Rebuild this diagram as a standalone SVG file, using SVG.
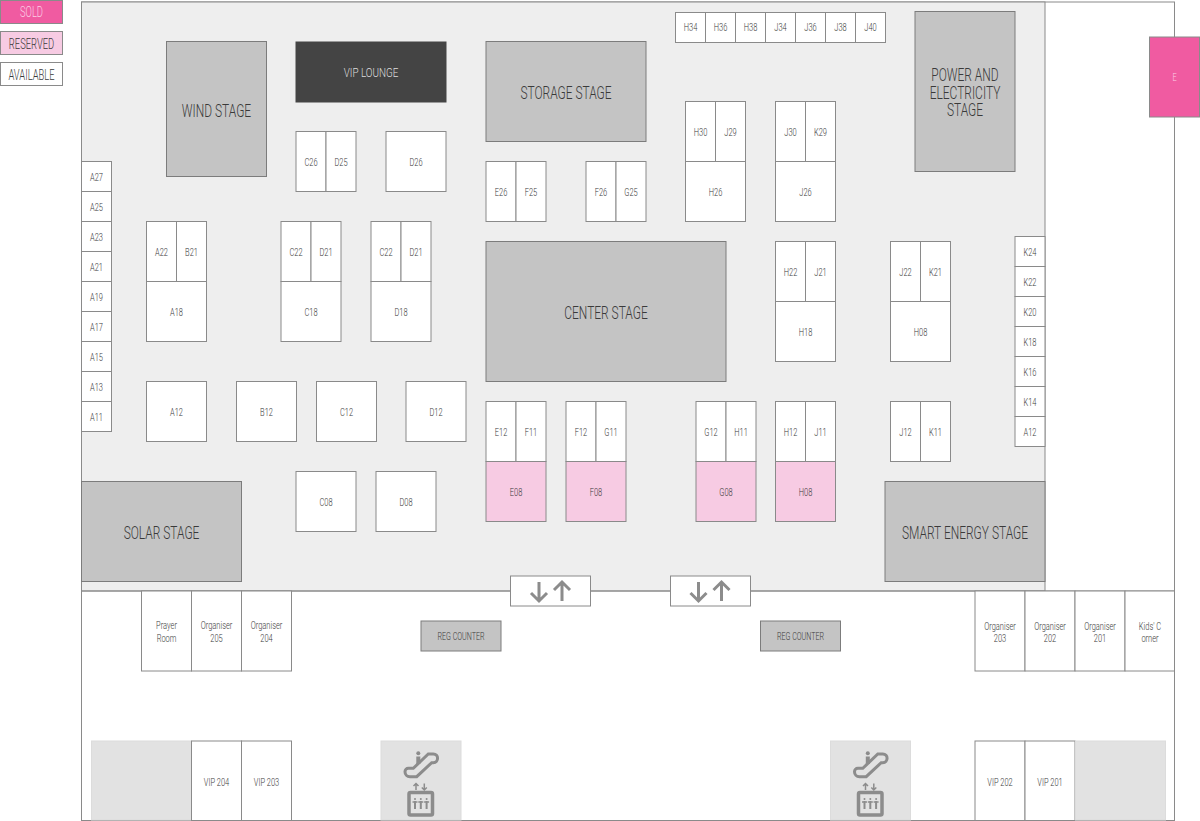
<svg xmlns="http://www.w3.org/2000/svg" width="1200" height="821" viewBox="0 0 1200 821">
<style>
rect{stroke:#8a8a8a;stroke-width:1}
.a{fill:#fff}.r{fill:#f7cbe3}.s{fill:#f05ba1}.g{fill:#c4c4c4;stroke:#7c7c7c}.d{fill:#444;stroke:#444}.n{fill:#e2e2e2;stroke:#dcdcdc}
text{font-family:Roboto,"Liberation Sans",sans-serif;font-weight:300;text-anchor:middle;fill:#3a3a3a;font-size:11.5px}
.l{font-size:18px}.p{fill:#fbd0e6}
.ic{fill:none;stroke:#8c8c8c;stroke-width:3}
.if{fill:#8c8c8c;stroke:none}
</style>
<defs>
<g id="arrows"><path class="ic" d="M28 6V25M20 17L28 25L36 17M51 25V6M43 14L51 6L59 14"/></g>
<g id="lift">
<path class="ic" d="M24 30.700C24 33.500 26 35.700 29 35.700H35.700L50.700 21.700H52.300C58 21.700 58 13 52.300 13H47.300L32.300 27.300H27.300C25.500 27.300 24 28.700 24 30.700Z"/>
<circle class="if" cx="37.300" cy="12.300" r="2"/><rect class="if" x="35.300" y="15.500" width="4" height="7.500"/>
<path class="ic" style="stroke-width:1.500" d="M35 49V42.500M32.500 45L35 42.500L37.500 45M43.300 42.500V49M40.800 46.500L43.300 49L45.800 46.500"/>
<rect x="28" y="51.500" width="23.500" height="22.500" rx="1.500" style="fill:none;stroke:#8c8c8c;stroke-width:3.500"/>
<path class="if" d="M33 60h2v8h-2zM38.800 60h2v8h-2zM44.600 60h2v8h-2z"/>
<path class="ic" style="stroke-width:1.500" d="M31.500 61H36.500M37.300 61H42.300M43.100 61H48.100"/>
<circle class="if" cx="34" cy="58" r="1"/><circle class="if" cx="39.800" cy="58" r="1"/><circle class="if" cx="45.600" cy="58" r="1"/>
</g>
</defs>

<g id="floor">
<rect x="81.500" y="2" width="1093" height="818.500" fill="#fff"/>
<rect x="81.500" y="2" width="963.500" height="589" fill="#eee"/>
<path d="M81 591H1175" stroke="#8a8a8a" fill="none"/>
</g>

<g id="legend">
<g id="legend-sold"><rect class="s" x="0.500" y="0.500" width="62" height="23"/><text class="p" style="font-size:14px" transform="translate(31.500,17) scale(.67,1)">SOLD</text></g>
<g id="legend-reserved"><rect class="r" x="0.500" y="31.500" width="62" height="23"/><text style="font-size:14px" transform="translate(31.500,48.500) scale(.67,1)">RESERVED</text></g>
<g id="legend-available"><rect class="a" x="0.500" y="62.500" width="62" height="23"/><text style="font-size:14px" transform="translate(31.500,79.500) scale(.67,1)">AVAILABLE</text></g>
</g>

<g id="stages">
<g id="wind-stage"><rect class="g" x="166.500" y="41.500" width="100" height="135"/><text class="l" transform="translate(216.500,116.500) scale(.665,1)">WIND STAGE</text></g>
<g id="vip-lounge"><rect class="d" x="296" y="42" width="150" height="60"/><text style="font-size:13px;fill:#ddd" transform="translate(371,77) scale(.76,1)">VIP LOUNGE</text></g>
<g id="storage-stage"><rect class="g" x="486" y="41.500" width="160" height="100"/><text class="l" transform="translate(566,98.500) scale(.665,1)">STORAGE STAGE</text></g>
<g id="power-stage"><rect class="g" x="915" y="11.500" width="100" height="160"/><text class="l" transform="translate(965,81) scale(.665,1)">POWER AND</text><text class="l" transform="translate(965,98.700) scale(.665,1)">ELECTRICITY</text><text class="l" transform="translate(965,116.400) scale(.665,1)">STAGE</text></g>
<g id="center-stage"><rect class="g" x="486" y="241.500" width="240" height="140"/><text class="l" transform="translate(606,318.500) scale(.665,1)">CENTER STAGE</text></g>
<g id="solar-stage"><rect class="g" x="81.500" y="481.500" width="160" height="100"/><text class="l" transform="translate(161.500,538.500) scale(.665,1)">SOLAR STAGE</text></g>
<g id="smart-stage"><rect class="g" x="885" y="481.500" width="160" height="100"/><text class="l" transform="translate(965,538.500) scale(.665,1)">SMART ENERGY STAGE</text></g>
</g>

<g id="booths-top">
<g id="E"><rect class="s" x="1149.500" y="37" width="50" height="80"/><text class="p" transform="translate(1174.500,81) scale(.65,1)">E</text></g>
<g id="H34"><rect class="a" x="675.500" y="12.500" width="30" height="30"/><text transform="translate(690.500,31) scale(.65,1)">H34</text></g>
<g id="H36"><rect class="a" x="705.500" y="12.500" width="30" height="30"/><text transform="translate(720.500,31) scale(.65,1)">H36</text></g>
<g id="H38"><rect class="a" x="735.500" y="12.500" width="30" height="30"/><text transform="translate(750.500,31) scale(.65,1)">H38</text></g>
<g id="J34"><rect class="a" x="765.500" y="12.500" width="30" height="30"/><text transform="translate(780.500,31) scale(.65,1)">J34</text></g>
<g id="J36"><rect class="a" x="795.500" y="12.500" width="30" height="30"/><text transform="translate(810.500,31) scale(.65,1)">J36</text></g>
<g id="J38"><rect class="a" x="825.500" y="12.500" width="30" height="30"/><text transform="translate(840.500,31) scale(.65,1)">J38</text></g>
<g id="J40"><rect class="a" x="855.500" y="12.500" width="30" height="30"/><text transform="translate(870.500,31) scale(.65,1)">J40</text></g>
</g>

<g id="booths" transform="translate(0,-.5)">
<g id="C26"><rect class="a" x="296" y="132" width="30" height="60"/><text transform="translate(311,166) scale(.65,1)">C26</text></g>
<g id="D25"><rect class="a" x="326" y="132" width="30" height="60"/><text transform="translate(341,166) scale(.65,1)">D25</text></g>
<g id="D26"><rect class="a" x="386" y="132" width="60" height="60"/><text transform="translate(416,166) scale(.65,1)">D26</text></g>
<g id="E26"><rect class="a" x="486" y="162" width="30" height="60"/><text transform="translate(501,196) scale(.65,1)">E26</text></g>
<g id="F25"><rect class="a" x="516" y="162" width="30" height="60"/><text transform="translate(531,196) scale(.65,1)">F25</text></g>
<g id="F26"><rect class="a" x="586" y="162" width="30" height="60"/><text transform="translate(601,196) scale(.65,1)">F26</text></g>
<g id="G25"><rect class="a" x="616" y="162" width="30" height="60"/><text transform="translate(631,196) scale(.65,1)">G25</text></g>
<g id="H30"><rect class="a" x="685.500" y="102" width="30" height="60"/><text transform="translate(700.500,136) scale(.65,1)">H30</text></g>
<g id="J29"><rect class="a" x="715.500" y="102" width="30" height="60"/><text transform="translate(730.500,136) scale(.65,1)">J29</text></g>
<g id="H26"><rect class="a" x="685.500" y="162" width="60" height="60"/><text transform="translate(715.500,196) scale(.65,1)">H26</text></g>
<g id="J30"><rect class="a" x="775.500" y="102" width="30" height="60"/><text transform="translate(790.500,136) scale(.65,1)">J30</text></g>
<g id="K29"><rect class="a" x="805.500" y="102" width="30" height="60"/><text transform="translate(820.500,136) scale(.65,1)">K29</text></g>
<g id="J26"><rect class="a" x="775.500" y="162" width="60" height="60"/><text transform="translate(805.500,196) scale(.65,1)">J26</text></g>

<g id="A27"><rect class="a" x="81.500" y="162" width="30" height="30"/><text transform="translate(96.500,181) scale(.65,1)">A27</text></g>
<g id="A25"><rect class="a" x="81.500" y="192" width="30" height="30"/><text transform="translate(96.500,211) scale(.65,1)">A25</text></g>
<g id="A23"><rect class="a" x="81.500" y="222" width="30" height="30"/><text transform="translate(96.500,241) scale(.65,1)">A23</text></g>
<g id="A21"><rect class="a" x="81.500" y="252" width="30" height="30"/><text transform="translate(96.500,271) scale(.65,1)">A21</text></g>
<g id="A19"><rect class="a" x="81.500" y="282" width="30" height="30"/><text transform="translate(96.500,301) scale(.65,1)">A19</text></g>
<g id="A17"><rect class="a" x="81.500" y="312" width="30" height="30"/><text transform="translate(96.500,331) scale(.65,1)">A17</text></g>
<g id="A15"><rect class="a" x="81.500" y="342" width="30" height="30"/><text transform="translate(96.500,361) scale(.65,1)">A15</text></g>
<g id="A13"><rect class="a" x="81.500" y="372" width="30" height="30"/><text transform="translate(96.500,391) scale(.65,1)">A13</text></g>
<g id="A11"><rect class="a" x="81.500" y="402" width="30" height="30"/><text transform="translate(96.500,421) scale(.65,1)">A11</text></g>

<g id="A22"><rect class="a" x="146.500" y="222" width="30" height="60"/><text transform="translate(161.500,256) scale(.65,1)">A22</text></g>
<g id="B21"><rect class="a" x="176.500" y="222" width="30" height="60"/><text transform="translate(191.500,256) scale(.65,1)">B21</text></g>
<g id="A18"><rect class="a" x="146.500" y="282" width="60" height="60"/><text transform="translate(176.500,316) scale(.65,1)">A18</text></g>
<g id="C22"><rect class="a" x="281" y="222" width="30" height="60"/><text transform="translate(296,256) scale(.65,1)">C22</text></g>
<g id="D21"><rect class="a" x="311" y="222" width="30" height="60"/><text transform="translate(326,256) scale(.65,1)">D21</text></g>
<g id="C18"><rect class="a" x="281" y="282" width="60" height="60"/><text transform="translate(311,316) scale(.65,1)">C18</text></g>
<g id="C22-2"><rect class="a" x="371" y="222" width="30" height="60"/><text transform="translate(386,256) scale(.65,1)">C22</text></g>
<g id="D21-2"><rect class="a" x="401" y="222" width="30" height="60"/><text transform="translate(416,256) scale(.65,1)">D21</text></g>
<g id="D18"><rect class="a" x="371" y="282" width="60" height="60"/><text transform="translate(401,316) scale(.65,1)">D18</text></g>

<g id="H22"><rect class="a" x="775.500" y="242" width="30" height="60"/><text transform="translate(790.500,276) scale(.65,1)">H22</text></g>
<g id="J21"><rect class="a" x="805.500" y="242" width="30" height="60"/><text transform="translate(820.500,276) scale(.65,1)">J21</text></g>
<g id="H18"><rect class="a" x="775.500" y="302" width="60" height="60"/><text transform="translate(805.500,336) scale(.65,1)">H18</text></g>
<g id="J22"><rect class="a" x="890.500" y="242" width="30" height="60"/><text transform="translate(905.500,276) scale(.65,1)">J22</text></g>
<g id="K21"><rect class="a" x="920.500" y="242" width="30" height="60"/><text transform="translate(935.500,276) scale(.65,1)">K21</text></g>
<g id="H08-2"><rect class="a" x="890.500" y="302" width="60" height="60"/><text transform="translate(920.500,336) scale(.65,1)">H08</text></g>

<g id="K24"><rect class="a" x="1015" y="237" width="30" height="30"/><text transform="translate(1030,256) scale(.65,1)">K24</text></g>
<g id="K22"><rect class="a" x="1015" y="267" width="30" height="30"/><text transform="translate(1030,286) scale(.65,1)">K22</text></g>
<g id="K20"><rect class="a" x="1015" y="297" width="30" height="30"/><text transform="translate(1030,316) scale(.65,1)">K20</text></g>
<g id="K18"><rect class="a" x="1015" y="327" width="30" height="30"/><text transform="translate(1030,346) scale(.65,1)">K18</text></g>
<g id="K16"><rect class="a" x="1015" y="357" width="30" height="30"/><text transform="translate(1030,376) scale(.65,1)">K16</text></g>
<g id="K14"><rect class="a" x="1015" y="387" width="30" height="30"/><text transform="translate(1030,406) scale(.65,1)">K14</text></g>
<g id="A12-2"><rect class="a" x="1015" y="417" width="30" height="30"/><text transform="translate(1030,436) scale(.65,1)">A12</text></g>

<g id="A12"><rect class="a" x="146.500" y="382" width="60" height="60"/><text transform="translate(176.500,416) scale(.65,1)">A12</text></g>
<g id="B12"><rect class="a" x="236.500" y="382" width="60" height="60"/><text transform="translate(266.500,416) scale(.65,1)">B12</text></g>
<g id="C12"><rect class="a" x="316.500" y="382" width="60" height="60"/><text transform="translate(346.500,416) scale(.65,1)">C12</text></g>
<g id="D12"><rect class="a" x="406" y="382" width="60" height="60"/><text transform="translate(436,416) scale(.65,1)">D12</text></g>

<g id="E12"><rect class="a" x="486" y="402" width="30" height="60"/><text transform="translate(501,436) scale(.65,1)">E12</text></g>
<g id="F11"><rect class="a" x="516" y="402" width="30" height="60"/><text transform="translate(531,436) scale(.65,1)">F11</text></g>
<g id="E08"><rect class="r" x="486" y="462" width="60" height="60"/><text transform="translate(516,496) scale(.65,1)">E08</text></g>
<g id="F12"><rect class="a" x="566" y="402" width="30" height="60"/><text transform="translate(581,436) scale(.65,1)">F12</text></g>
<g id="G11"><rect class="a" x="596" y="402" width="30" height="60"/><text transform="translate(611,436) scale(.65,1)">G11</text></g>
<g id="F08"><rect class="r" x="566" y="462" width="60" height="60"/><text transform="translate(596,496) scale(.65,1)">F08</text></g>
<g id="G12"><rect class="a" x="696" y="402" width="30" height="60"/><text transform="translate(711,436) scale(.65,1)">G12</text></g>
<g id="H11"><rect class="a" x="726" y="402" width="30" height="60"/><text transform="translate(741,436) scale(.65,1)">H11</text></g>
<g id="G08"><rect class="r" x="696" y="462" width="60" height="60"/><text transform="translate(726,496) scale(.65,1)">G08</text></g>
<g id="H12"><rect class="a" x="775.500" y="402" width="30" height="60"/><text transform="translate(790.500,436) scale(.65,1)">H12</text></g>
<g id="J11"><rect class="a" x="805.500" y="402" width="30" height="60"/><text transform="translate(820.500,436) scale(.65,1)">J11</text></g>
<g id="H08"><rect class="r" x="775.500" y="462" width="60" height="60"/><text transform="translate(805.500,496) scale(.65,1)">H08</text></g>
<g id="J12"><rect class="a" x="890.500" y="402" width="30" height="60"/><text transform="translate(905.500,436) scale(.65,1)">J12</text></g>
<g id="K11"><rect class="a" x="920.500" y="402" width="30" height="60"/><text transform="translate(935.500,436) scale(.65,1)">K11</text></g>

<g id="C08"><rect class="a" x="296" y="472" width="60" height="60"/><text transform="translate(326,506) scale(.65,1)">C08</text></g>
<g id="D08"><rect class="a" x="376" y="472" width="60" height="60"/><text transform="translate(406,506) scale(.65,1)">D08</text></g>
</g>

<g id="stairs">
<g id="stairs-1"><rect class="a" x="510.500" y="576" width="80" height="30"/><use href="#arrows" x="511" y="576"/></g>
<g id="stairs-2"><rect class="a" x="670.500" y="576" width="80" height="30"/><use href="#arrows" x="670.500" y="576"/></g>
</g>

<g id="lower">
<g id="prayer"><rect class="a" x="141.500" y="591" width="50" height="80"/><text transform="translate(166.500,629) scale(.65,1)">Prayer</text><text transform="translate(166.500,641.500) scale(.65,1)">Room</text></g>
<g id="org205"><rect class="a" x="191.500" y="591" width="50" height="80"/><text transform="translate(216.500,629) scale(.65,1)">Organiser</text><text transform="translate(216.500,641.500) scale(.65,1)">205</text></g>
<g id="org204"><rect class="a" x="241.500" y="591" width="50" height="80"/><text transform="translate(266.500,629) scale(.65,1)">Organiser</text><text transform="translate(266.500,641.500) scale(.65,1)">204</text></g>
<g id="reg1"><rect class="g" x="421" y="621" width="80" height="30"/><text transform="translate(461,640) scale(.62,1)">REG COUNTER</text></g>
<g id="reg2"><rect class="g" x="760.500" y="621" width="80" height="30"/><text transform="translate(800.500,640) scale(.62,1)">REG COUNTER</text></g>
<g id="org203"><rect class="a" x="975" y="591" width="50" height="80"/><text transform="translate(1000,629.500) scale(.65,1)">Organiser</text><text transform="translate(1000,641.700) scale(.65,1)">203</text></g>
<g id="org202"><rect class="a" x="1025" y="591" width="50" height="80"/><text transform="translate(1050,629.500) scale(.65,1)">Organiser</text><text transform="translate(1050,641.700) scale(.65,1)">202</text></g>
<g id="org201"><rect class="a" x="1075" y="591" width="50" height="80"/><text transform="translate(1100,629.500) scale(.65,1)">Organiser</text><text transform="translate(1100,641.700) scale(.65,1)">201</text></g>
<g id="kids"><rect class="a" x="1125" y="591" width="49.500" height="80"/><text transform="translate(1150,629.500) scale(.65,1)">Kids' C</text><text transform="translate(1150,641.700) scale(.65,1)">orner</text></g>
<g id="vipbox-left"><rect class="n" x="91.500" y="741" width="100" height="79"/></g>
<g id="vip204"><rect class="a" x="191.500" y="741" width="50" height="79.500"/><text transform="translate(216.500,785.500) scale(.65,1)">VIP 204</text></g>
<g id="vip203"><rect class="a" x="241.500" y="741" width="50" height="79.500"/><text transform="translate(266.500,785.500) scale(.65,1)">VIP 203</text></g>
<g id="lift-1"><rect class="n" x="381" y="741" width="80" height="79"/><use href="#lift" x="381" y="741"/></g>
<g id="lift-2"><rect class="n" x="830.500" y="741" width="80" height="79"/><use href="#lift" x="830.500" y="741"/></g>
<g id="vip202"><rect class="a" x="975" y="741" width="50" height="79.500"/><text transform="translate(1000,785.500) scale(.65,1)">VIP 202</text></g>
<g id="vip201"><rect class="a" x="1025" y="741" width="50" height="79.500"/><text transform="translate(1050,785.500) scale(.65,1)">VIP 201</text></g>
<g id="vipbox-right"><rect class="n" x="1075.500" y="741" width="90" height="79"/></g>
</g>
</svg>
